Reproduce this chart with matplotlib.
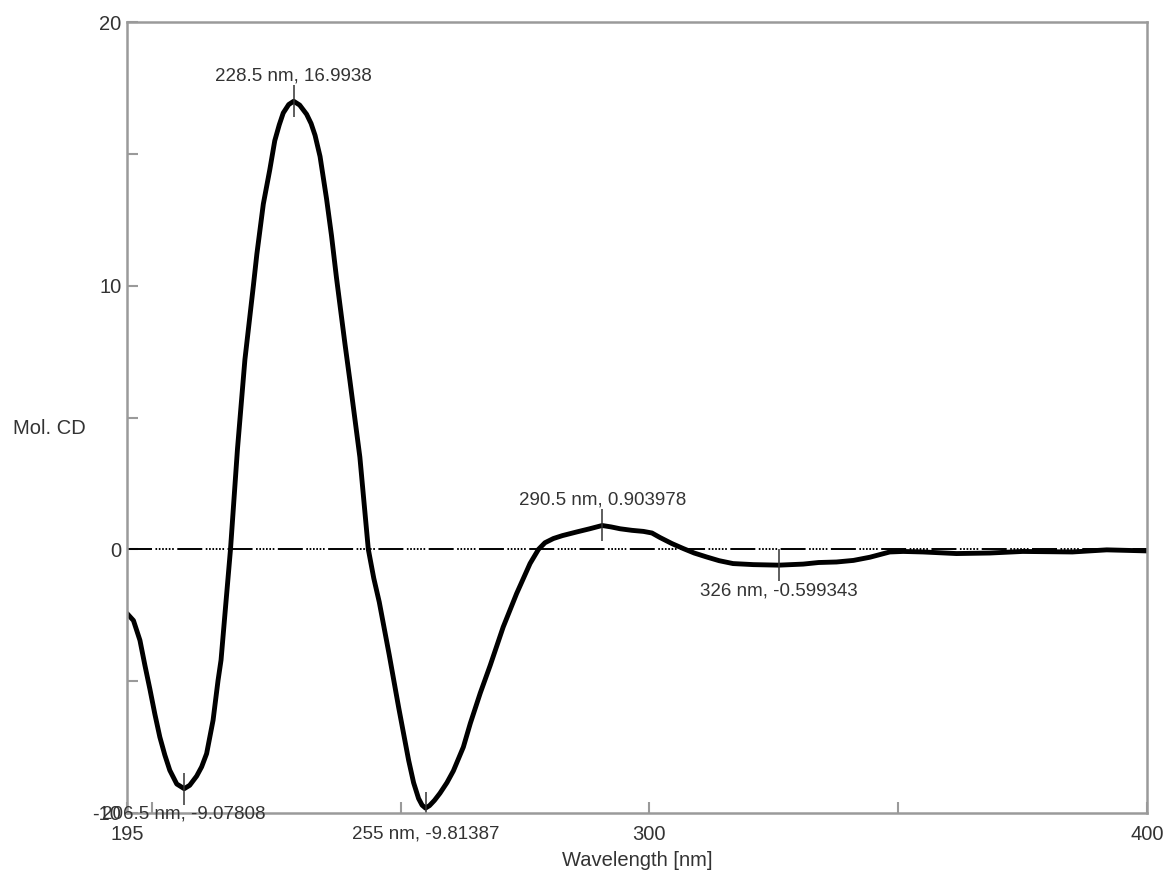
import numpy as np
import matplotlib
matplotlib.use("Agg")
import matplotlib.pyplot as plt

plt.rcParams['font.family'] = ['Liberation Sans', 'DejaVu Sans']
plt.rcParams['axes.unicode_minus'] = False
plt.rcParams['lines.scale_dashes'] = False

# CD spectrum
wavelength = [195, 196.3, 197.6, 198.6, 199.6, 200.6, 201.6, 202.6, 203.6,
              205, 206.5, 207.6, 209, 210, 211, 212.3, 213.3, 213.9, 214.8,
              215.8, 217.2, 218.7, 220.4, 221.1, 222.4, 223.7, 224.7, 225.6,
              226.4, 227.5, 228.5, 229.7, 231.1, 232, 232.8, 233.8, 235.1,
              236.1, 237.1, 238.8, 239.8, 241.8, 243.5, 244.6, 245.7, 247.7,
              249.6, 251.6, 252.6, 253.6, 254.3, 255, 255.8, 256.8, 257.9,
              259.3, 260.6, 262.6, 264, 266, 268, 270.6, 273.3, 276, 277.7,
              279, 280.7, 282.5, 285.4, 288, 290.5, 292.3, 294.1, 296.5,
              298.8, 300.5, 302.1, 304.5, 306.8, 309, 311.5, 314, 316.8,
              320.9, 326, 330.9, 334, 337.6, 341, 344.3, 346.3, 348.3, 351,
              355, 361.7, 368.4, 375, 380, 385, 391.9, 396, 400]
mol_cd = [-2.43, -2.7, -3.45, -4.4, -5.3, -6.25, -7.12, -7.8, -8.38,
          -8.9, -9.078, -8.95, -8.6, -8.25, -7.75, -6.48, -4.97, -4.2, -2.2,
          0.0, 3.8, 7.2, 10.0, 11.2, 13.1, 14.4, 15.5, 16.1,
          16.55, 16.87, 16.994, 16.85, 16.5, 16.15, 15.7, 14.9, 13.3,
          11.9, 10.3, 7.8, 6.4, 3.5, 0.0, -1.1, -2.0, -4.0,
          -6.0, -8.0, -8.85, -9.45, -9.7, -9.814, -9.72, -9.52, -9.25,
          -8.85, -8.4, -7.5, -6.6, -5.45, -4.4, -2.95, -1.68, -0.54, 0.0,
          0.25, 0.41, 0.52, 0.66, 0.78, 0.904, 0.85, 0.78, 0.72,
          0.68, 0.62, 0.45, 0.22, 0.03, -0.14, -0.29, -0.43, -0.54,
          -0.58, -0.6, -0.56, -0.5, -0.48, -0.42, -0.3, -0.2, -0.1, -0.08,
          -0.1, -0.16, -0.14, -0.08, -0.09, -0.1, -0.02, -0.04, -0.06]

# labelled extrema
peak_x = [206.5, 228.5, 255, 290.5, 326]
peak_y = [-9.07808, 16.9938, -9.81387, 0.903978, -0.599343]
peak_up = [False, True, False, True, False]

x_ticks = [195, 200, 250, 300, 350, 400]
x_ticklabels = ['195', '', '', '300', '', '400']
y_ticks = [-10, -5, 0, 5, 10, 15, 20]
y_ticklabels = ['-10', '', '0', '', '10', '', '20']

fig = plt.figure(figsize=(11.68, 8.77), dpi=100)
ax = fig.add_axes([127 / 1168, 1 - 813 / 877, 1020 / 1168, 791 / 877])

ax.plot([195, 400], [0, 0], color='black', lw=1.4,
        linestyle=(0, (18, 2.5, 1.2, 1.2, 1.2, 1.2, 1.2, 1.2, 1.2, 1.2, 1.2, 1.2, 1.2, 2.5)))
ax.plot(wavelength, mol_cd, color='black', lw=3.5,
        solid_joinstyle='round', solid_capstyle='round')

txt_color = '#333333'
ax.plot(peak_x, peak_y, ls='none', marker='|', ms=23, mew=1.1, color='#333333')
for px, py, up in zip(peak_x, peak_y, peak_up):
    ax.annotate(f"{px:g} nm, {py:g}", xy=(px, py),
                xytext=(0, 17 if up else -17), textcoords='offset pixels',
                ha='center', va='bottom' if up else 'top',
                fontsize=13.5, color=txt_color)

ax.set_xlim(195, 400)
ax.set_ylim(-10, 20)
ax.set_xticks(x_ticks)
ax.set_xticklabels(x_ticklabels)
ax.set_yticks(y_ticks)
ax.set_yticklabels(y_ticklabels)
ax.tick_params(direction='in', length=8, width=1.5, color='#9a9a9a',
               labelsize=14.5, labelcolor=txt_color)
ax.tick_params(axis='x', pad=9)
ax.tick_params(axis='y', pad=4)
for sp in ax.spines.values():
    sp.set_color('#9a9a9a')
    sp.set_linewidth(1.8)

fig.text(637 / 1168, 1 - 861 / 877, 'Wavelength [nm]', ha='center', va='center',
         fontsize=14.5, color=txt_color)
fig.text(13 / 1168, 1 - 429 / 877, 'Mol. CD', ha='left', va='center',
         fontsize=14.5, color=txt_color)

fig.savefig('out.png', dpi=100)
